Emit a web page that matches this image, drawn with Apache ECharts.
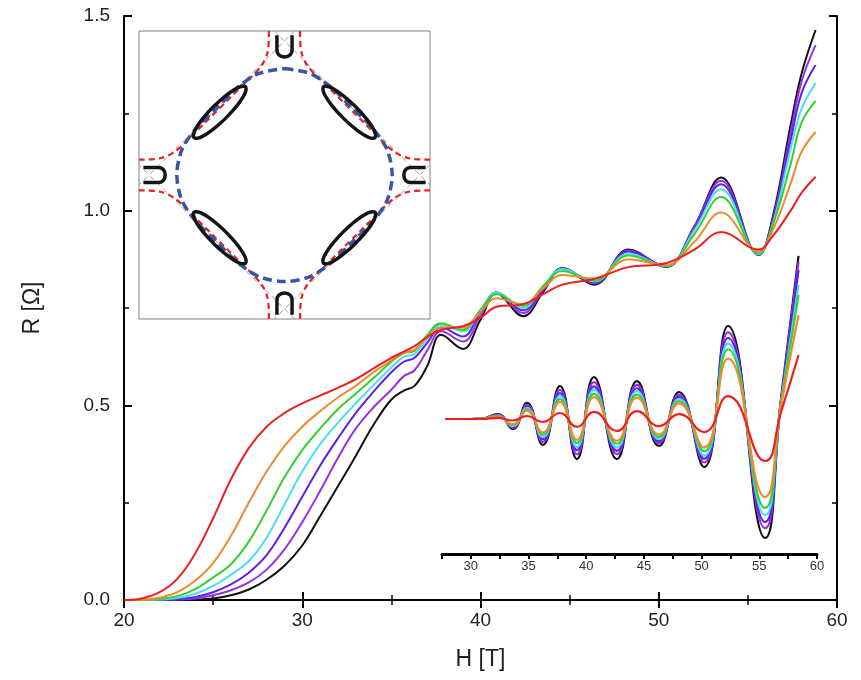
<!DOCTYPE html>
<html>
<head>
<meta charset="utf-8">
<script src="https://cdn.jsdelivr.net/npm/echarts@6/dist/echarts.min.js"></script>
<style>
  html, body { margin: 0; padding: 0; background: #fff; }
  #chart { width: 861px; height: 680px; }
</style>
</head>
<body>
<div id="chart"></div>
<script>
// ---- Main panel: resistance vs field, one curve per temperature ----
const fieldMain = [20,21,22,23,24,25,26,27,28,29,30,31,32,33,34,35,35.7,36.3,37,37.8,39,40,40.9,42.4,43.5,44.6,46.4,48.3,50.4,52,53.5,55.6,56.4,57.4,58,58.8];
const rBlack  = [0,0,0,0,0.001,0.004,0.012,0.027,0.052,0.088,0.14,0.215,0.292,0.37,0.45,0.515,0.538,0.55,0.6,0.681,0.645,0.72,0.788,0.729,0.79,0.852,0.81,0.9,0.855,0.96,1.085,0.886,0.985,1.22,1.35,1.464];
const rViolet = [0,0,0,0.001,0.004,0.012,0.025,0.045,0.078,0.13,0.2,0.28,0.365,0.44,0.495,0.54,0.575,0.59,0.64,0.69,0.664,0.73,0.79,0.737,0.795,0.852,0.813,0.898,0.857,0.96,1.077,0.886,0.978,1.2,1.33,1.425];
const rBlue   = [0,0,0,0.002,0.008,0.02,0.04,0.07,0.115,0.185,0.265,0.345,0.415,0.48,0.535,0.585,0.612,0.622,0.66,0.7,0.677,0.74,0.79,0.744,0.8,0.852,0.815,0.895,0.857,0.955,1.068,0.887,0.972,1.18,1.3,1.374];
const rCyan   = [0,0,0.001,0.005,0.016,0.036,0.065,0.1,0.16,0.245,0.33,0.4,0.455,0.505,0.552,0.597,0.625,0.632,0.67,0.707,0.69,0.745,0.79,0.75,0.805,0.85,0.818,0.89,0.857,0.95,1.055,0.888,0.966,1.16,1.26,1.328];
const rGreen  = [0,0,0.003,0.01,0.028,0.058,0.092,0.15,0.23,0.315,0.385,0.44,0.49,0.53,0.57,0.612,0.634,0.64,0.68,0.711,0.694,0.745,0.785,0.755,0.805,0.845,0.82,0.885,0.858,0.94,1.035,0.89,0.963,1.12,1.225,1.282];
const rOrange = [0,0.001,0.006,0.02,0.05,0.095,0.165,0.25,0.33,0.395,0.445,0.485,0.52,0.55,0.585,0.615,0.634,0.643,0.675,0.7,0.7,0.74,0.775,0.76,0.8,0.835,0.825,0.875,0.86,0.92,0.995,0.895,0.95,1.07,1.15,1.202];
const rRed    = [0,0.004,0.02,0.055,0.12,0.21,0.31,0.39,0.445,0.48,0.505,0.525,0.545,0.567,0.595,0.622,0.638,0.652,0.675,0.694,0.703,0.725,0.753,0.76,0.785,0.81,0.825,0.855,0.865,0.9,0.945,0.9,0.935,1.0,1.045,1.087];

// ---- Lower inset: oscillatory part of R(H), arbitrary units ----
const fieldOsc = [27.8,29,30,31,32.34,33.64,34.86,36.24,37.72,39.19,40.67,42.66,44.4,46.31,48.04,50.21,52.29,55.5,56.9,58.4];
const dBlack  = [0,0,0,0.003,0.033,-0.067,0.107,-0.173,0.22,-0.267,0.28,-0.267,0.253,-0.18,0.18,-0.32,0.62,-0.793,0.147,1.087];
const dViolet = [0,0,0,0.003,0.03,-0.06,0.095,-0.153,0.194,-0.235,0.246,-0.235,0.228,-0.162,0.162,-0.29,0.577,-0.727,0.14,1.047];
const dBlue   = [0,0,0,0.002,0.026,-0.052,0.083,-0.135,0.172,-0.208,0.218,-0.212,0.205,-0.148,0.148,-0.265,0.54,-0.687,0.13,0.993];
const dCyan   = [0,0,0,0.002,0.023,-0.047,0.075,-0.121,0.154,-0.187,0.196,-0.19,0.186,-0.135,0.135,-0.245,0.502,-0.64,0.12,0.893];
const dGreen  = [0,0,0,0.002,0.02,-0.04,0.064,-0.104,0.132,-0.16,0.168,-0.165,0.163,-0.119,0.119,-0.215,0.465,-0.593,0.11,0.827];
const dOrange = [0,0,0,0.001,0.017,-0.035,0.056,-0.09,0.114,-0.139,0.146,-0.145,0.143,-0.104,0.104,-0.19,0.403,-0.52,0.095,0.693];
const dRed    = [0,0,0,0,0.008,-0.01,0.02,-0.02,0.04,-0.053,0.047,-0.08,0.053,-0.047,0.033,-0.087,0.153,-0.28,0.05,0.427];
const oscTicks = [30,35,40,45,50,55,60];

// ---- Upper inset: Fermi-surface sketch in reduced k units (-1..1) ----
// Rounded-diamond orbit (large pocket)
const bigOrbit = [[0,0.74],[0.176,0.705],[0.325,0.606],[0.465,0.465],[0.606,0.325],[0.705,0.176],[0.74,0],
  [0.705,-0.176],[0.606,-0.325],[0.465,-0.465],[0.325,-0.606],[0.176,-0.705],[0,-0.74],
  [-0.176,-0.705],[-0.325,-0.606],[-0.465,-0.465],[-0.606,-0.325],[-0.705,-0.176],[-0.74,0],
  [-0.705,0.176],[-0.606,0.325],[-0.465,0.465],[-0.325,0.606],[-0.176,0.705],[0,0.74]];
// Small elongated pocket, upper-right quadrant (others by reflection)
const pocket = [[0.486,0.477],[0.439,0.521],[0.392,0.56],[0.349,0.59],[0.312,0.61],[0.285,0.617],[0.268,0.613],
  [0.264,0.596],[0.271,0.569],[0.291,0.532],[0.321,0.489],[0.36,0.442],[0.404,0.395],[0.451,0.351],
  [0.498,0.312],[0.541,0.282],[0.578,0.262],[0.605,0.255],[0.622,0.259],[0.626,0.276],[0.619,0.303],
  [0.599,0.34],[0.569,0.383],[0.53,0.43],[0.486,0.477]];
// Electron pocket at the top zone edge (others by rotation)
const edgePocket = [[-0.052,0.97],[-0.052,0.87],[-0.04,0.835],[0,0.82],[0.04,0.835],[0.052,0.87],[0.052,0.97]];
// Breakdown orbit boundary, upper-right quadrant
const breakdown = [[0.107,1.0],[0.11,0.9],[0.135,0.8],[0.19,0.72],[0.27,0.64],[0.45,0.46],[0.64,0.27],[0.72,0.19],[0.8,0.135],[0.9,0.11],[1.0,0.107]];
// Magnetic zone boundary lines
const zoneLines = [[[-0.07,1],[1,-0.07]],[[0.07,1],[-1,-0.07]],[[0.07,-1],[-1,0.07]],[[1,0.07],[-0.07,-1]]];

const colors = {
  black: '#111111', violet: '#9a2fe6', blue: '#5a22e8', cyan: '#45def7',
  green: '#33d02f', orange: '#ef8a2e', red: '#ec2020'
};

function pairs(xs, ys) { return xs.map((x, i) => [x, ys[i]]); }
function reflect(pts, sx, sy) { return pts.map(p => [p[0] * sx, p[1] * sy]); }
function rotate90(pts) { return pts.map(p => [-p[1], p[0]]); }
function joinWithGaps(list) {
  const out = [];
  list.forEach((pts, i) => { if (i) out.push([null, null]); pts.forEach(p => out.push(p)); });
  return out;
}

const quadrants = [[1,1],[-1,1],[-1,-1],[1,-1]];
const pocketData = joinWithGaps(quadrants.map(q => reflect(pocket, q[0], q[1])));
const breakdownData = joinWithGaps(quadrants.map(q => reflect(breakdown, q[0], q[1])));
const edgeData = joinWithGaps([edgePocket, rotate90(edgePocket), rotate90(rotate90(edgePocket)), rotate90(rotate90(rotate90(edgePocket)))]);
const zoneData = joinWithGaps(zoneLines);

const textColor = '#222';
const font = 'Liberation Sans, Arial, sans-serif';

const mainAxisCommon = {
  axisLine: { lineStyle: { color: '#000', width: 2 } },
  axisTick: { inside: true, length: 8, lineStyle: { color: '#000', width: 2 } },
  minorTick: { show: true, splitNumber: 2, length: 5, lineStyle: { color: '#000', width: 1.5 } },
  splitLine: { show: false }
};

const mainSeries = [
  ['black', rBlack], ['violet', rViolet], ['blue', rBlue], ['cyan', rCyan],
  ['green', rGreen], ['orange', rOrange], ['red', rRed]
].map(([c, ys]) => ({
  type: 'line', xAxisIndex: 0, yAxisIndex: 0, data: pairs(fieldMain, ys),
  smooth: 0.4, symbol: 'none', lineStyle: { color: colors[c], width: 2 }, z: 3
}));

const oscSeries = [
  ['black', dBlack], ['violet', dViolet], ['blue', dBlue], ['cyan', dCyan],
  ['green', dGreen], ['orange', dOrange], ['red', dRed]
].map(([c, ys]) => ({
  type: 'line', xAxisIndex: 2, yAxisIndex: 2, data: pairs(fieldOsc, ys),
  smooth: 0.5, symbol: 'none', lineStyle: { color: colors[c], width: 2.2 }, z: 3
}));

const sketchSeries = [
  { data: zoneData, lineStyle: { color: '#9a9a9a', width: 1, type: [5, 4] }, smooth: false },
  { data: breakdownData, lineStyle: { color: '#e82222', width: 2.2, type: [6, 4] }, smooth: 0.4 },
  { data: bigOrbit, lineStyle: { color: '#3556a8', width: 3.5, type: [9, 5] }, smooth: 0.3 },
  { data: pocketData, lineStyle: { color: '#151515', width: 3.5 }, smooth: 0.2 },
  { data: edgeData, lineStyle: { color: '#151515', width: 3.5 }, smooth: 0.4 }
].map(s => Object.assign({ type: 'line', xAxisIndex: 1, yAxisIndex: 1, symbol: 'none', connectNulls: false, z: 4 }, s));

const option = {
  backgroundColor: '#fff',
  animation: false,
  textStyle: { fontFamily: font },
  grid: [
    { left: 124, right: 24, top: 16, bottom: 80 },
    { left: 139, right: 431, top: 31, bottom: 361, show: true, borderColor: '#808080', borderWidth: 1, backgroundColor: '#fff', z: 2 },
    { left: 442, right: 44, top: 239, bottom: 126 }
  ],
  xAxis: [
    Object.assign({ gridIndex: 0, type: 'value', min: 20, max: 60, interval: 10, position: 'bottom',
      name: 'H [T]', nameLocation: 'middle', nameGap: 48,
      nameTextStyle: { fontSize: 23, color: textColor, fontFamily: font },
      axisLabel: { fontSize: 19, color: textColor, margin: 11, fontFamily: font } }, mainAxisCommon),
    { gridIndex: 1, type: 'value', min: -1, max: 1, show: false },
    { gridIndex: 2, type: 'value', min: 27.5, max: 60, interval: 2.5, position: 'bottom',
      axisLine: { onZero: false, lineStyle: { color: '#000', width: 3 } },
      axisTick: { inside: false, length: 5, lineStyle: { color: '#000', width: 2 } },
      axisLabel: { fontSize: 13, color: '#333', margin: 6, fontFamily: font,
        formatter: v => oscTicks.indexOf(v) >= 0 ? String(v) : '' },
      splitLine: { show: false } },
    Object.assign({ gridIndex: 0, type: 'value', min: 20, max: 60, interval: 10, position: 'top',
      axisLabel: { show: false } }, mainAxisCommon)
  ],
  yAxis: [
    Object.assign({ gridIndex: 0, type: 'value', min: 0, max: 1.5, interval: 0.5, position: 'left',
      name: 'R [Ω]', nameLocation: 'middle', nameGap: 80, nameRotate: 90,
      nameTextStyle: { fontSize: 23, color: textColor, fontFamily: font },
      axisLabel: { fontSize: 19, color: textColor, margin: 14, fontFamily: font, formatter: v => v.toFixed(1) } }, mainAxisCommon),
    { gridIndex: 1, type: 'value', min: -1, max: 1, show: false },
    { gridIndex: 2, type: 'value', min: -0.9, max: 1.2, show: false },
    Object.assign({ gridIndex: 0, type: 'value', min: 0, max: 1.5, interval: 0.5, position: 'right',
      axisLabel: { show: false } }, mainAxisCommon)
  ],
  series: mainSeries.concat(oscSeries, sketchSeries)
};

const chart = echarts.init(document.getElementById('chart'), null, { renderer: 'canvas' });
chart.setOption(option);
</script>
</body>
</html>
